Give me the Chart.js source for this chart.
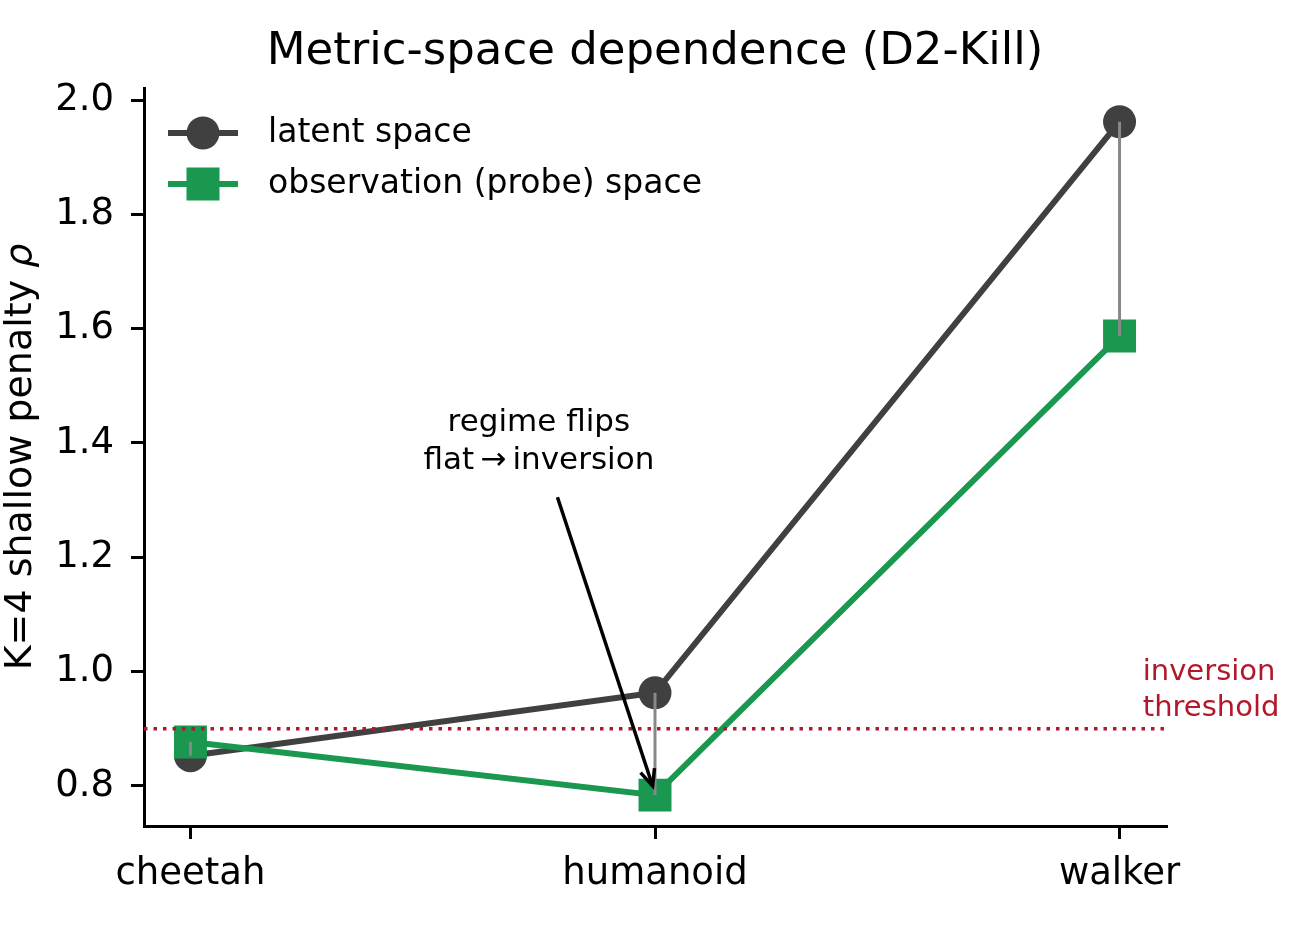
<!DOCTYPE html>
<html>
<head>
<meta charset="utf-8">
<script src="https://cdn.jsdelivr.net/npm/chart.js@4.4.1/dist/chart.umd.min.js"></script>
<style>
  html, body { margin: 0; padding: 0; background: #fff; }
  #wrap { width: 1310px; height: 925px; }
</style>
</head>
<body>
<div id="wrap"><canvas id="chart" width="1310" height="925"></canvas></div>
<script>
// Values
const categories = ['cheetah', 'humanoid', 'walker'];
const latentValues = [0.853, 0.963, 1.962];
const probeValues = [0.877, 0.784, 1.587];
const yTickValues = [0.8, 1.0, 1.2, 1.4, 1.6, 1.8, 2.0];
const thresholdValue = 0.9;
const seriesNames = ['latent space', 'observation (probe) space'];

const FONT = '"DejaVu Sans", sans-serif';
const DARK = '#404040';
const GREEN = '#1a9850';
const RED = '#b2182b';

const toPoints = vals => vals.map((v, i) => ({ x: i, y: v }));

// Draws gap lines, threshold, annotation, title, axis label and legend
const extras = {
  id: 'extras',
  afterDatasetsDraw(chart) {
    const { ctx, chartArea, scales } = chart;
    const x = scales.x, y = scales.y;
    ctx.save();

    // grey connectors between the two series
    ctx.strokeStyle = '#888888';
    ctx.lineWidth = 3;
    categories.forEach((c, i) => {
      ctx.beginPath();
      ctx.moveTo(x.getPixelForValue(i), y.getPixelForValue(latentValues[i]));
      ctx.lineTo(x.getPixelForValue(i), y.getPixelForValue(probeValues[i]));
      ctx.stroke();
    });

    // dotted threshold line
    const ty = y.getPixelForValue(thresholdValue);
    ctx.strokeStyle = RED;
    ctx.lineWidth = 3.5;
    ctx.setLineDash([3.5, 6]);
    ctx.beginPath();
    ctx.moveTo(chartArea.left, ty);
    ctx.lineTo(chartArea.right, ty);
    ctx.stroke();
    ctx.setLineDash([]);

    ctx.fillStyle = RED;
    ctx.font = '29px ' + FONT;
    ctx.textAlign = 'left';
    ctx.textBaseline = 'middle';
    ctx.fillText('inversion', x.getPixelForValue(2.05), y.getPixelForValue(0.998));
    ctx.fillText('threshold', x.getPixelForValue(2.05), y.getPixelForValue(0.936));

    // annotation text + arrow
    ctx.fillStyle = '#000';
    ctx.font = '31px ' + FONT;
    ctx.textAlign = 'center';
    const ax = x.getPixelForValue(0.75);
    ctx.fillText('regime flips', ax, y.getPixelForValue(1.435));
    ctx.fillText('flat\u2009\u2192\u2009inversion', ax, y.getPixelForValue(1.368));

    const x0 = x.getPixelForValue(0.79), y0 = y.getPixelForValue(1.305);
    const x1 = x.getPixelForValue(0.995), y1 = y.getPixelForValue(0.80);
    ctx.strokeStyle = '#000';
    ctx.lineWidth = 3.5;
    ctx.beginPath();
    ctx.moveTo(x0, y0);
    ctx.lineTo(x1, y1);
    ctx.stroke();
    const ang = Math.atan2(y1 - y0, x1 - x0);
    const hl = 18, ha = 0.42;
    ctx.beginPath();
    ctx.moveTo(x1 - hl * Math.cos(ang - ha), y1 - hl * Math.sin(ang - ha));
    ctx.lineTo(x1, y1);
    ctx.lineTo(x1 - hl * Math.cos(ang + ha), y1 - hl * Math.sin(ang + ha));
    ctx.stroke();

    ctx.restore();
  },
  afterDraw(chart) {
    const { ctx, chartArea } = chart;
    ctx.save();

    // title
    ctx.fillStyle = '#000';
    ctx.font = '45px ' + FONT;
    ctx.textAlign = 'center';
    ctx.textBaseline = 'alphabetic';
    ctx.fillText('Metric-space dependence (D2-Kill)', (chartArea.left + chartArea.right) / 2, 64);

    // y axis label with italic rho
    const part1 = 'K=4 shallow penalty ';
    const part2 = '\u03c1';
    ctx.font = '38px ' + FONT;
    const w1 = ctx.measureText(part1).width;
    ctx.font = 'italic 38px ' + FONT;
    const w2 = ctx.measureText(part2).width;
    ctx.translate(31, (chartArea.top + chartArea.bottom) / 2);
    ctx.rotate(-Math.PI / 2);
    ctx.textAlign = 'left';
    ctx.font = '38px ' + FONT;
    ctx.fillText(part1, -(w1 + w2) / 2, 0);
    ctx.font = 'italic 38px ' + FONT;
    ctx.fillText(part2, -(w1 + w2) / 2 + w1, 0);
    ctx.setTransform(1, 0, 0, 1, 0, 0);

    // legend
    const rows = [
      { name: seriesNames[0], color: DARK, style: 'circle', y: 133 },
      { name: seriesNames[1], color: GREEN, style: 'rect', y: 184 }
    ];
    rows.forEach(r => {
      ctx.strokeStyle = r.color;
      ctx.lineWidth = 6;
      ctx.beginPath();
      ctx.moveTo(168, r.y);
      ctx.lineTo(238, r.y);
      ctx.stroke();
      ctx.fillStyle = r.color;
      if (r.style === 'circle') {
        ctx.beginPath();
        ctx.arc(203, r.y, 16.5, 0, Math.PI * 2);
        ctx.fill();
      } else {
        ctx.fillRect(203 - 16.5, r.y - 16.5, 33, 33);
      }
      ctx.fillStyle = '#000';
      ctx.font = '33px ' + FONT;
      ctx.textAlign = 'left';
      ctx.textBaseline = 'middle';
      ctx.fillText(r.name, 268, r.y);
    });

    ctx.restore();
  }
};

new Chart(document.getElementById('chart'), {
  type: 'line',
  data: {
    datasets: [
      {
        label: seriesNames[0],
        data: toPoints(latentValues),
        borderColor: DARK,
        backgroundColor: DARK,
        borderWidth: 6,
        pointStyle: 'circle',
        pointRadius: 16.5,
        pointBorderWidth: 0,
        pointBackgroundColor: DARK,
        order: 2
      },
      {
        label: seriesNames[1],
        data: toPoints(probeValues),
        borderColor: GREEN,
        backgroundColor: GREEN,
        borderWidth: 6,
        pointStyle: 'rect',
        pointRadius: 23.3,
        pointBorderWidth: 0,
        pointBackgroundColor: GREEN,
        order: 1
      }
    ]
  },
  options: {
    responsive: false,
    animation: false,
    devicePixelRatio: 1,
    layout: { padding: { top: 88, right: 144, left: 0, bottom: 0 } },
    plugins: {
      legend: { display: false },
      title: { display: false },
      tooltip: { enabled: false }
    },
    scales: {
      x: {
        type: 'linear',
        min: -0.1,
        max: 2.1,
        afterFit: s => { s.height = 99; },
        afterBuildTicks: s => { s.ticks = categories.map((c, i) => ({ value: i })); },
        ticks: {
          callback: v => categories[v],
          color: '#000',
          font: { family: FONT, size: 37 },
          padding: 13,
          maxRotation: 0
        },
        grid: { display: true, drawOnChartArea: false, drawTicks: true, tickLength: 13, color: '#000', lineWidth: 3 },
        border: { display: true, color: '#000', width: 3 }
      },
      y: {
        type: 'linear',
        min: 0.730,
        max: 2.021,
        afterFit: s => { s.width = 144; },
        afterBuildTicks: s => { s.ticks = yTickValues.map(v => ({ value: v })); },
        ticks: {
          callback: v => v.toFixed(1),
          color: '#000',
          font: { family: FONT, size: 37 },
          padding: 17
        },
        grid: { display: true, drawOnChartArea: false, drawTicks: true, tickLength: 13, color: '#000', lineWidth: 3 },
        border: { display: true, color: '#000', width: 3 }
      }
    }
  },
  plugins: [extras]
});
</script>
</body>
</html>
